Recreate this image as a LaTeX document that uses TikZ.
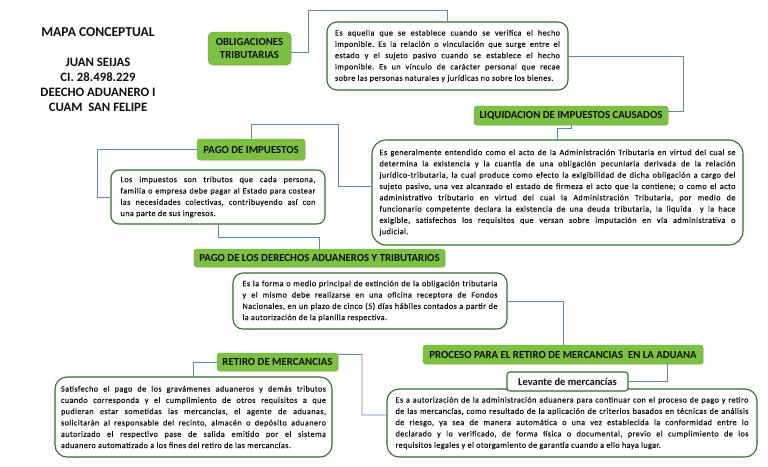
\documentclass[tikz,border=0pt]{standalone}
\usepackage{fontspec}
\setmainfont{Carlito}
\newfontfamily\bodyfont[LetterSpace=5,FakeBold=0.4]{Carlito}
\usetikzlibrary{calc,backgrounds,shadows}
\definecolor{hdgreen}{RGB}{125,193,66}
\definecolor{bxgreen}{RGB}{46,112,40}
\definecolor{lnblue}{RGB}{91,134,190}
\definecolor{txt}{RGB}{15,15,15}
\frenchspacing
\newcommand{\jl}[1]{\hbox to \hsize{#1}}
\newcommand{\bodypar}[3][8.2]{\parbox{#2}{\frenchspacing\bodyfont\fontsize{#1}{11.3}\selectfont #3}}
\begin{document}
\begin{tikzpicture}[x=1pt,y=-1pt,
  hdr/.style={rectangle, rounded corners=3pt, fill=hdgreen, draw=hdgreen!85!black, line width=0.4pt,
    font=\bfseries\fontsize{10.8}{12.5}\selectfont, text=txt, inner sep=0pt, align=center,
    drop shadow={shadow xshift=1pt, shadow yshift=-1pt, opacity=0.25, fill=gray}},
  wbox/.style={rectangle, rounded corners=10pt, draw=bxgreen, line width=1.1pt, fill=white, inner sep=0pt, text=txt},
  conn/.style={draw=lnblue, line width=0.9pt},
  ttl/.style={font=\bfseries\fontsize{12.8}{14}\selectfont, text=txt, inner sep=0pt}]
\useasboundingbox (0,0) rectangle (768,466);

% title
\node[ttl, font=\bfseries\fontsize{13.6}{15}\selectfont] (t1) at (98,32) {MAPA CONCEPTUAL};
\node[ttl] (t2) at (98,62) {JUAN SEIJAS};
\node[ttl] (t3) at (98,77) {CI. 28.498.229};
\node[ttl] (t4) at (98,92) {DEECHO ADUANERO I};
\node[ttl] (t5) at (98,107) {CUAM\ \ SAN FELIPE};

% header boxes
\node[hdr, rounded corners=5pt, minimum width=83pt, minimum height=33pt] (ob) at (249.5,48.5) {OBLIGACIONES\\TRIBUTARIAS};
\node[hdr, minimum width=194pt, minimum height=19pt] (liq) at (571,115.5) {LIQUIDACION DE IMPUESTOS CAUSADOS};
\node[hdr, minimum width=108pt, minimum height=21pt] (pimp) at (251,149.5) {PAGO DE IMPUESTOS};
\node[hdr, minimum width=251pt, minimum height=18pt] (pder) at (319.5,258) {PAGO DE LOS DERECHOS ADUANEROS Y TRIBUTARIOS};
\node[hdr, minimum width=121pt, minimum height=18pt] (ret) at (277.5,362) {RETIRO DE MERCANCIAS};
\node[hdr, minimum width=280pt, minimum height=19pt] (proc) at (563,354.5) {PROCESO PARA EL RETIRO DE MERCANCIAS\ \ EN LA ADUANA};

% text boxes
\node[wbox, minimum width=241pt, minimum height=68pt] (top) at (447.5,56) {\bodypar{225pt}{%
\jl{Es aquella que se establece cuando se verifica el hecho}%
\jl{imponible. Es la relación o vinculación que surge entre el}%
\jl{estado y el sujeto pasivo cuando se establece el hecho}%
\jl{imponible. Es un vínculo de carácter personal que recae}%
\hbox{sobre las personas naturales y jurídicas no sobre los bienes.}}};

\node[wbox, rounded corners=14pt, minimum width=371pt, minimum height=105pt] (big) at (557.5,192.5) {\bodypar{356pt}{%
\jl{Es generalmente entendido como el acto de la Administración Tributaria en virtud del cual se}%
\jl{determina la existencia y la cuantía de una obligación pecuniaria derivada de la relación}%
\jl{jurídico-tributaria, la cual produce como efecto la exigibilidad de dicha obligación a cargo del}%
\jl{sujeto pasivo, una vez alcanzado el estado de firmeza el acto que la contiene; o como el acto}%
\jl{administrativo tributario en virtud del cual la Administración Tributaria, por medio de}%
\jl{funcionario competente declara la existencia de una deuda tributaria, la liquida\ \ y la hace}%
\jl{exigible, satisfechos los requisitos que versan sobre imputación en vía administrativa o}%
\hbox{judicial.}}};

\node[wbox, rounded corners=8pt, minimum width=214pt, minimum height=54pt] (limp) at (218,197) {\bodypar{195pt}{%
\jl{Los impuestos son tributos que cada persona,}%
\jl{familia o empresa debe pagar al Estado para costear}%
\jl{las necesidades colectivas, contribuyendo así con}%
\hbox{una parte de sus ingresos.}}};

\node[wbox, minimum width=274pt, minimum height=56pt] (forma) at (370,301) {\bodypar{255pt}{%
\jl{Es la forma o medio principal de extinción de la obligación tributaria}%
\jl{y el mismo debe realizarse en una oficina receptora de Fondos}%
\jl{Nacionales, en un plazo de cinco (5) días hábiles contados a partir de}%
\hbox{la autorización de la planilla respectiva.}}};

\node[wbox, rounded corners=12pt, minimum width=277pt, minimum height=80pt] (satis) at (193.5,417) {\bodypar{265pt}{%
\jl{Satisfecho el pago de los gravámenes aduaneros y demás tributos}%
\jl{cuando corresponda y el cumplimiento de otros requisitos a que}%
\jl{pudieran estar sometidas las mercancías, el agente de aduanas,}%
\jl{solicitarán al responsable del recinto, almacén o depósito aduanero}%
\jl{autorizado el respectivo pase de salida emitido por el sistema}%
\hbox{aduanero automatizado a los fines del retiro de las mercancías.}}};

\node[wbox, rounded corners=12pt, minimum width=370pt, minimum height=68pt] (bot) at (572,423) {\bodypar{353pt}{%
\jl{Es a autorización de la administración aduanera para continuar con el proceso de pago y retiro}%
\jl{de las mercancías, como resultado de la aplicación de criterios basados en técnicas de análisis}%
\jl{de riesgo, ya sea de manera automática o una vez establecida la conformidad entre lo}%
\jl{declarado y lo verificado, de forma física o documental, previo el cumplimiento de los}%
\hbox{requisitos legales y el otorgamiento de garantía cuando a ello haya lugar.}}};

\node[wbox, rounded corners=3pt, minimum width=121pt, minimum height=19pt, font=\bfseries\fontsize{10.5}{12}\selectfont] (lev) at (567.5,381.5) {Levante de mercancías};

% connectors
\begin{pgfonlayer}{background}
\fill[white] (0,0) rectangle (768,466);
\draw[conn] ($(ob.east)+(0,3.5)$) -| (308,10) -| (top.north);
\draw[conn] (top.east) -| ($(liq.east)+(15,-4)$) -- ($(liq.east)+(0,-4)$);
\draw[conn] (liq.south) -- ++(0,3.5) -| (big.north);
\draw[conn] (pimp.north) |- (338,124) |- ($(big.west)+(0,-6)$);
\draw[conn] (pimp.west) -| ($(limp.west)+(-13,0)$) -- (limp.west);
\draw[conn] (limp.south) -- ++(0,13) -| (pder.north);
\draw[conn] (forma.east) -| (proc.north);
\draw[conn] ($(proc.east)+(0,7)$) -- (667,361.5) |- (lev.east);
\draw[conn] (ret.west) -| (satis.north);
\draw[conn] ($(ret.north east)+(0,1.5)$) -- (362,354.5) |- ($(bot.west)+(0,-8)$);
\end{pgfonlayer}
\end{tikzpicture}
\end{document}
